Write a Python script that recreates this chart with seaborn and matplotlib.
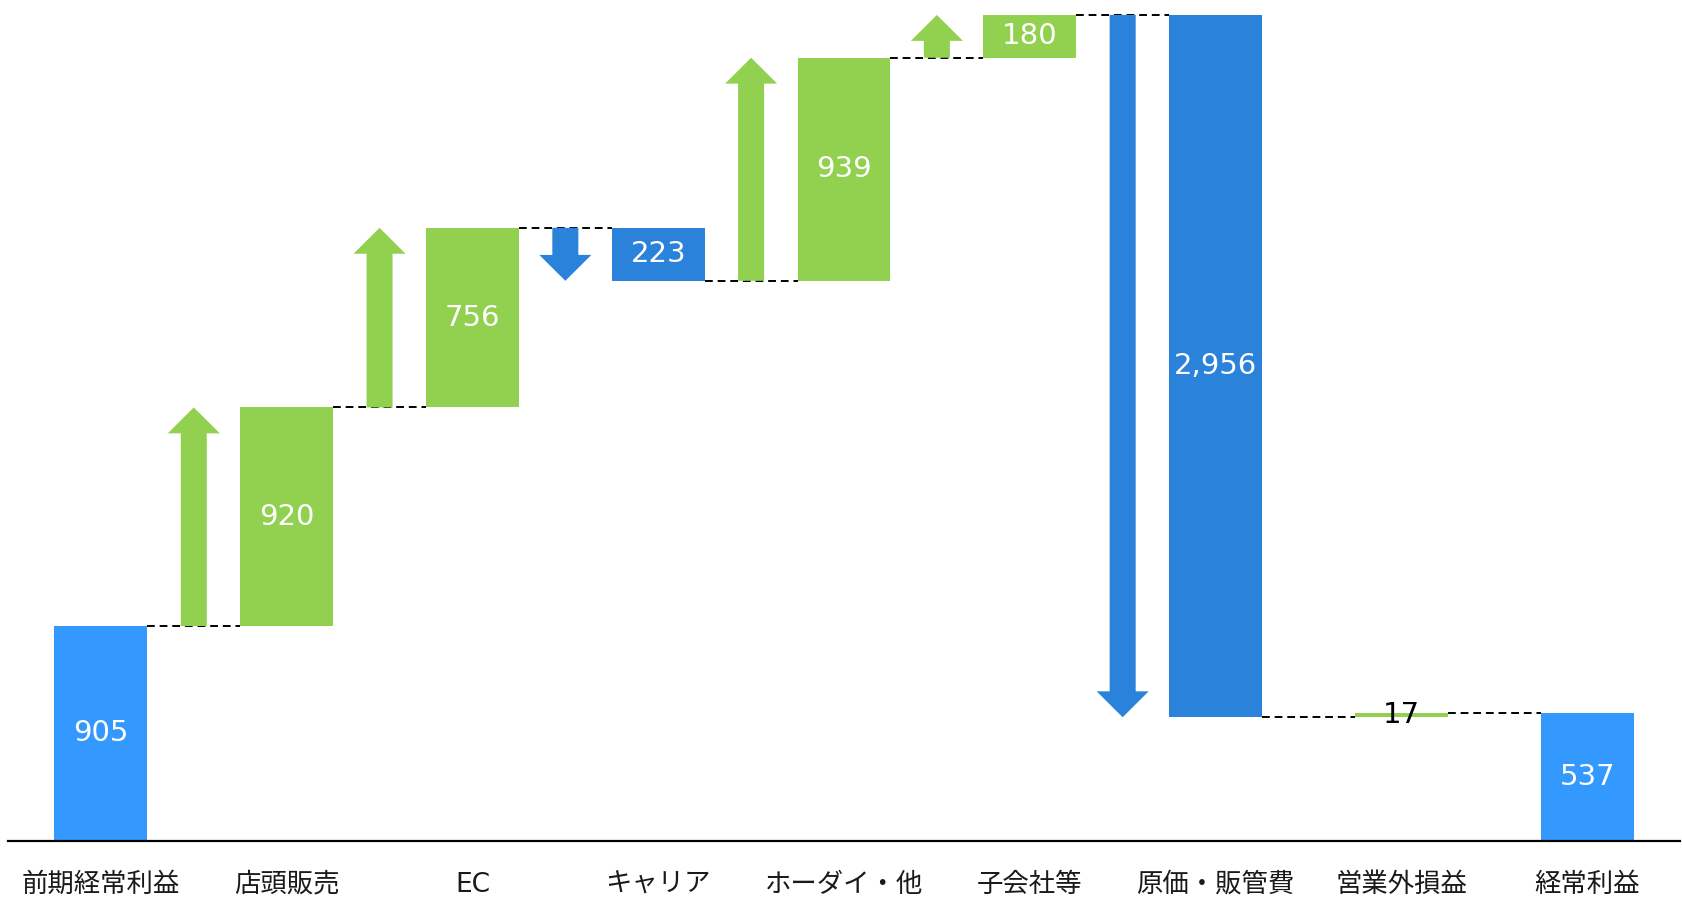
import numpy as np
import pandas as pd
import matplotlib
matplotlib.use("Agg")
import matplotlib.pyplot as plt
import seaborn as sns

categories = ["前期経常利益", "店頭販売", "EC", "キャリア", "ホーダイ・他",
              "子会社等", "原価・販管費", "営業外損益", "経常利益"]
values = [905, 920, 756, -223, 939, 180, -2956, 17, 537]
labels = ["905", "920", "756", "223", "939", "180", "2,956", "17", "537"]
is_total = [True, False, False, False, False, False, False, False, True]

C_TOTAL = "#3399FF"
C_UP = "#92D050"
C_DOWN = "#2A82DA"

# waterfall levels
starts, ends = [], []
level = 0
for v, t in zip(values, is_total):
    if t:
        starts.append(0)
        ends.append(v)
        level = v
    else:
        starts.append(level)
        level = level + v
        ends.append(level)

df = pd.DataFrame({
    "cat": categories,
    "bottom": np.minimum(starts, ends),
    "height": np.abs(np.array(ends) - np.array(starts)),
})
colors = [C_TOTAL if t else (C_UP if v > 0 else C_DOWN)
          for v, t in zip(values, is_total)]

sns.set_theme(style="white")
plt.rcParams["font.family"] = ["DejaVu Sans", "Noto Sans CJK JP"]

fig = plt.figure(figsize=(16.83, 8.98), dpi=100)
ax = fig.add_axes([8 / 1683, 57 / 898, 1672 / 1683, 841 / 898])

sns.barplot(data=df, x="cat", y="height", bottom=df["bottom"].values,
            order=categories, width=0.5, color=C_TOTAL, ax=ax, linewidth=0)
for p, c in zip(ax.patches, colors):
    p.set_facecolor(c)

# arrows between bars
for i in range(1, len(values)):
    if is_total[i] or abs(values[i]) < 50:
        continue
    col = C_UP if values[i] > 0 else C_DOWN
    ax.arrow(i - 0.5, starts[i], 0, ends[i] - starts[i], width=0.14,
             head_width=0.28, head_length=109, length_includes_head=True,
             color=col, linewidth=0, zorder=3)

# dashed connectors
for i in range(len(values) - 1):
    ax.plot([i + 0.25, i + 0.75], [ends[i], ends[i]], color="black",
            linestyle=(0, (4, 2.5)), linewidth=1.4, zorder=2)

# value labels
for i, (s, e) in enumerate(zip(starts, ends)):
    tcol = "black" if abs(e - s) < 60 else "white"
    ax.text(i, (s + e) / 2, labels[i], ha="center", va="center",
            fontsize=21, color=tcol, zorder=4)

ax.set_xlim(-0.5, 8.5)
ax.set_ylim(0, 3540)
ax.set_xlabel("")
ax.set_ylabel("")
ax.set_yticks([])
ax.tick_params(axis="x", length=0, pad=22, labelsize=19, colors="#1a1a1a")
for s in ["left", "right", "top"]:
    ax.spines[s].set_visible(False)
ax.spines["bottom"].set_color("black")
ax.spines["bottom"].set_linewidth(1.6)

fig.savefig("out.png", dpi=100)
